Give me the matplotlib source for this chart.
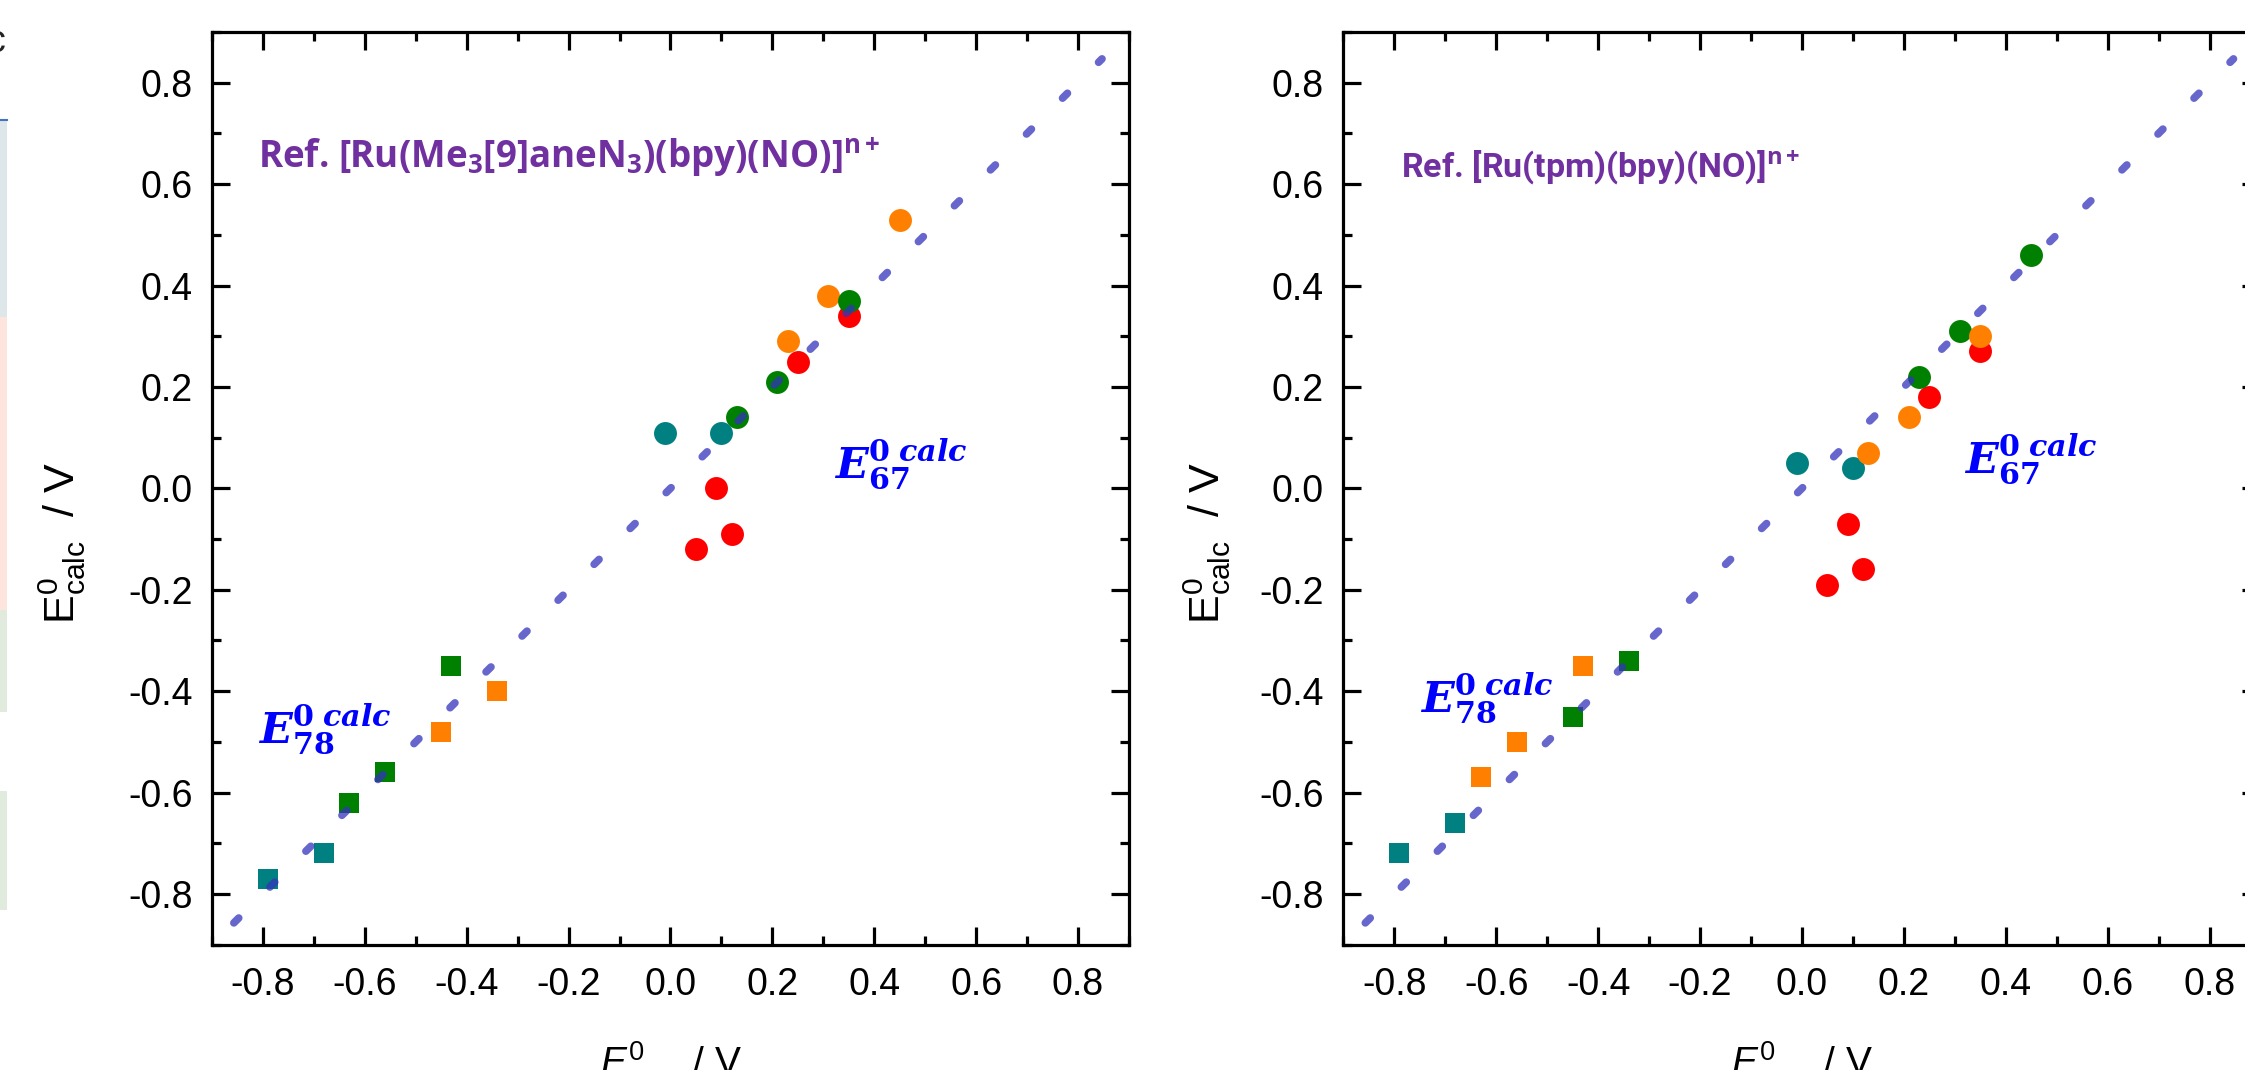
import matplotlib
matplotlib.use("Agg")
import matplotlib.pyplot as plt
from matplotlib.ticker import MultipleLocator, FormatStrFormatter
from matplotlib.patches import Rectangle
from matplotlib.lines import Line2D

plt.rcParams['font.family'] = ['Liberation Sans', 'DejaVu Sans']
plt.rcParams['axes.unicode_minus'] = False
plt.rcParams['lines.scale_dashes'] = False
plt.rcParams['mathtext.fontset'] = 'custom'
plt.rcParams['mathtext.rm'] = 'Liberation Sans'
plt.rcParams['mathtext.it'] = 'Liberation Sans:italic'
plt.rcParams['mathtext.bf'] = 'Open Sans:bold'
plt.rcParams['mathtext.sf'] = 'Liberation Sans'

ORANGE = '#ff8000'
GREEN = '#008000'
RED = '#ff0000'
TEAL = '#008080'

# panel a: Ref. [Ru(Me3[9]aneN3)(bpy)(NO)]n+
a_e67_orange_exp = [0.45, 0.31, 0.23]
a_e67_orange_calc = [0.53, 0.38, 0.29]
a_e67_red_exp = [0.35, 0.25, 0.09, 0.12, 0.05]
a_e67_red_calc = [0.34, 0.25, 0.00, -0.09, -0.12]
a_e67_green_exp = [0.35, 0.21, 0.13]
a_e67_green_calc = [0.37, 0.21, 0.14]
a_e67_teal_exp = [-0.01, 0.10]
a_e67_teal_calc = [0.11, 0.11]
a_e78_green_exp = [-0.43, -0.56, -0.63]
a_e78_green_calc = [-0.35, -0.56, -0.62]
a_e78_orange_exp = [-0.34, -0.45]
a_e78_orange_calc = [-0.40, -0.48]
a_e78_teal_exp = [-0.68, -0.79]
a_e78_teal_calc = [-0.72, -0.77]

# panel b: Ref. [Ru(tpm)(bpy)(NO)]n+
b_e67_red_exp = [0.35, 0.25, 0.09, 0.12, 0.05]
b_e67_red_calc = [0.27, 0.18, -0.07, -0.16, -0.19]
b_e67_teal_exp = [-0.01, 0.10]
b_e67_teal_calc = [0.05, 0.04]
b_e67_green_exp = [0.45, 0.31, 0.23]
b_e67_green_calc = [0.46, 0.31, 0.22]
b_e67_orange_exp = [0.35, 0.21, 0.13]
b_e67_orange_calc = [0.30, 0.14, 0.07]
b_e78_green_exp = [-0.34, -0.45]
b_e78_green_calc = [-0.34, -0.45]
b_e78_orange_exp = [-0.43, -0.56, -0.63]
b_e78_orange_calc = [-0.35, -0.50, -0.57]
b_e78_teal_exp = [-0.68, -0.79]
b_e78_teal_calc = [-0.66, -0.72]

# y = x reference
ideal = [-0.857, 0.847]

ticks_major = [-0.8, -0.6, -0.4, -0.2, 0.0, 0.2, 0.4, 0.6, 0.8]

fig = plt.figure(figsize=(22.45, 10.7), dpi=100)


def setup_axes(ax):
    ax.set_xlim(-0.9, 0.9)
    ax.set_ylim(-0.9, 0.9)
    ax.set_xticks(ticks_major)
    ax.set_yticks(ticks_major)
    ax.xaxis.set_minor_locator(MultipleLocator(0.1))
    ax.yaxis.set_minor_locator(MultipleLocator(0.1))
    ax.tick_params(which='both', direction='in', top=True, right=True, width=2.3)
    ax.tick_params(which='major', length=13, labelsize=27)
    ax.tick_params(axis='y', which='major', pad=14)
    ax.tick_params(axis='x', which='major', pad=16)
    ax.tick_params(which='minor', length=6.5)
    for s in ax.spines.values():
        s.set_linewidth(2.3)
    ax.xaxis.set_major_formatter(FormatStrFormatter('%.1f'))
    ax.yaxis.set_major_formatter(FormatStrFormatter('%.1f'))


def dots(ax, x, y, color, marker):
    ms = 16.5 if marker == 'o' else 14.6
    ax.plot(x, y, marker, ms=ms, color=color, mew=0, ls='none', zorder=3)


def e_label(ax, x, y, sub):
    ax.text(x, y, r'$\mathbfit{E}^{\mathbf{0}\ \mathbfit{calc}}_{\mathbf{%s}}$' % sub,
            color='#0000ff', fontsize=31, math_fontfamily='dejavuserif',
            ha='left', va='baseline', zorder=5)


def finish(ax, ylab_x):
    ax.plot(ideal, ideal, color='#3333bb', alpha=0.75, lw=5.5, dashes=(5.0, 31.6),
            solid_capstyle='round', dash_capstyle='round', zorder=4)
    ax.set_ylabel(r'$\mathrm{E}^{0}_{\mathsf{calc}}$  / V', fontsize=31)
    ax.yaxis.set_label_coords(ylab_x, 0.44)
    ax.set_xlabel(r'$E^{\mathit{0}}_{\mathit{exp}}$  / V', fontsize=28)
    ax.xaxis.set_label_coords(0.5, -0.104)


# ---- panel a ----
ax1 = fig.add_axes([0.0944, 0.1171, 0.4085, 0.853])
setup_axes(ax1)
dots(ax1, a_e67_orange_exp, a_e67_orange_calc, ORANGE, 'o')
dots(ax1, a_e67_red_exp, a_e67_red_calc, RED, 'o')
dots(ax1, a_e67_green_exp, a_e67_green_calc, GREEN, 'o')
dots(ax1, a_e67_teal_exp, a_e67_teal_calc, TEAL, 'o')
dots(ax1, a_e78_green_exp, a_e78_green_calc, GREEN, 's')
dots(ax1, a_e78_orange_exp, a_e78_orange_calc, ORANGE, 's')
dots(ax1, a_e78_teal_exp, a_e78_teal_calc, TEAL, 's')
ax1.text(-0.81, 0.632, r'Ref. [Ru(Me$_\mathbf{3}$[9]aneN$_\mathbf{3}$)(bpy)(NO)]$^\mathbf{n+}$',
         color='#7030a0', fontsize=26.5, fontweight='bold',
         family=['Open Sans', 'DejaVu Sans'], ha='left', va='baseline')
e_label(ax1, 0.321, 0.021, '67')
e_label(ax1, -0.809, -0.502, '78')
finish(ax1, -0.135)

# ---- panel b ----
ax2 = fig.add_axes([0.5984, 0.1171, 0.4085, 0.853])
setup_axes(ax2)
dots(ax2, b_e67_red_exp, b_e67_red_calc, RED, 'o')
dots(ax2, b_e67_teal_exp, b_e67_teal_calc, TEAL, 'o')
dots(ax2, b_e67_green_exp, b_e67_green_calc, GREEN, 'o')
dots(ax2, b_e67_orange_exp, b_e67_orange_calc, ORANGE, 'o')
dots(ax2, b_e78_green_exp, b_e78_green_calc, GREEN, 's')
dots(ax2, b_e78_orange_exp, b_e78_orange_calc, ORANGE, 's')
dots(ax2, b_e78_teal_exp, b_e78_teal_calc, TEAL, 's')
ax2.text(-0.786, 0.613, r'Ref. [Ru(tpm)(bpy)(NO)]$^\mathbf{n+}$',
         color='#7030a0', fontsize=24.5, fontweight='bold',
         family=['Roboto', 'DejaVu Sans'], ha='left', va='baseline')
e_label(ax2, 0.319, 0.031, '67')
e_label(ax2, -0.749, -0.441, '78')
finish(ax2, -0.1205)

# remnants of the neighbouring panel at the left edge
W, H = 2245.0, 1070.0
strip = [(121, 317, '#dde6e9'), (317, 610, '#fde4dc'), (610, 712, '#e0eadd'), (791, 910, '#e0eadd')]
for top, bot, c in strip:
    fig.add_artist(Rectangle((0, 1 - bot / H), 7 / W, (bot - top) / H,
                             transform=fig.transFigure, color=c, lw=0))
fig.add_artist(Line2D([0, 7 / W], [1 - 120 / H, 1 - 120 / H], transform=fig.transFigure,
                      color='#4472c4', lw=1.5))
fig.text(-0.006, 1 - 52 / H, 'c', fontsize=27, color='#222222')

fig.savefig('out.png', dpi=100)
